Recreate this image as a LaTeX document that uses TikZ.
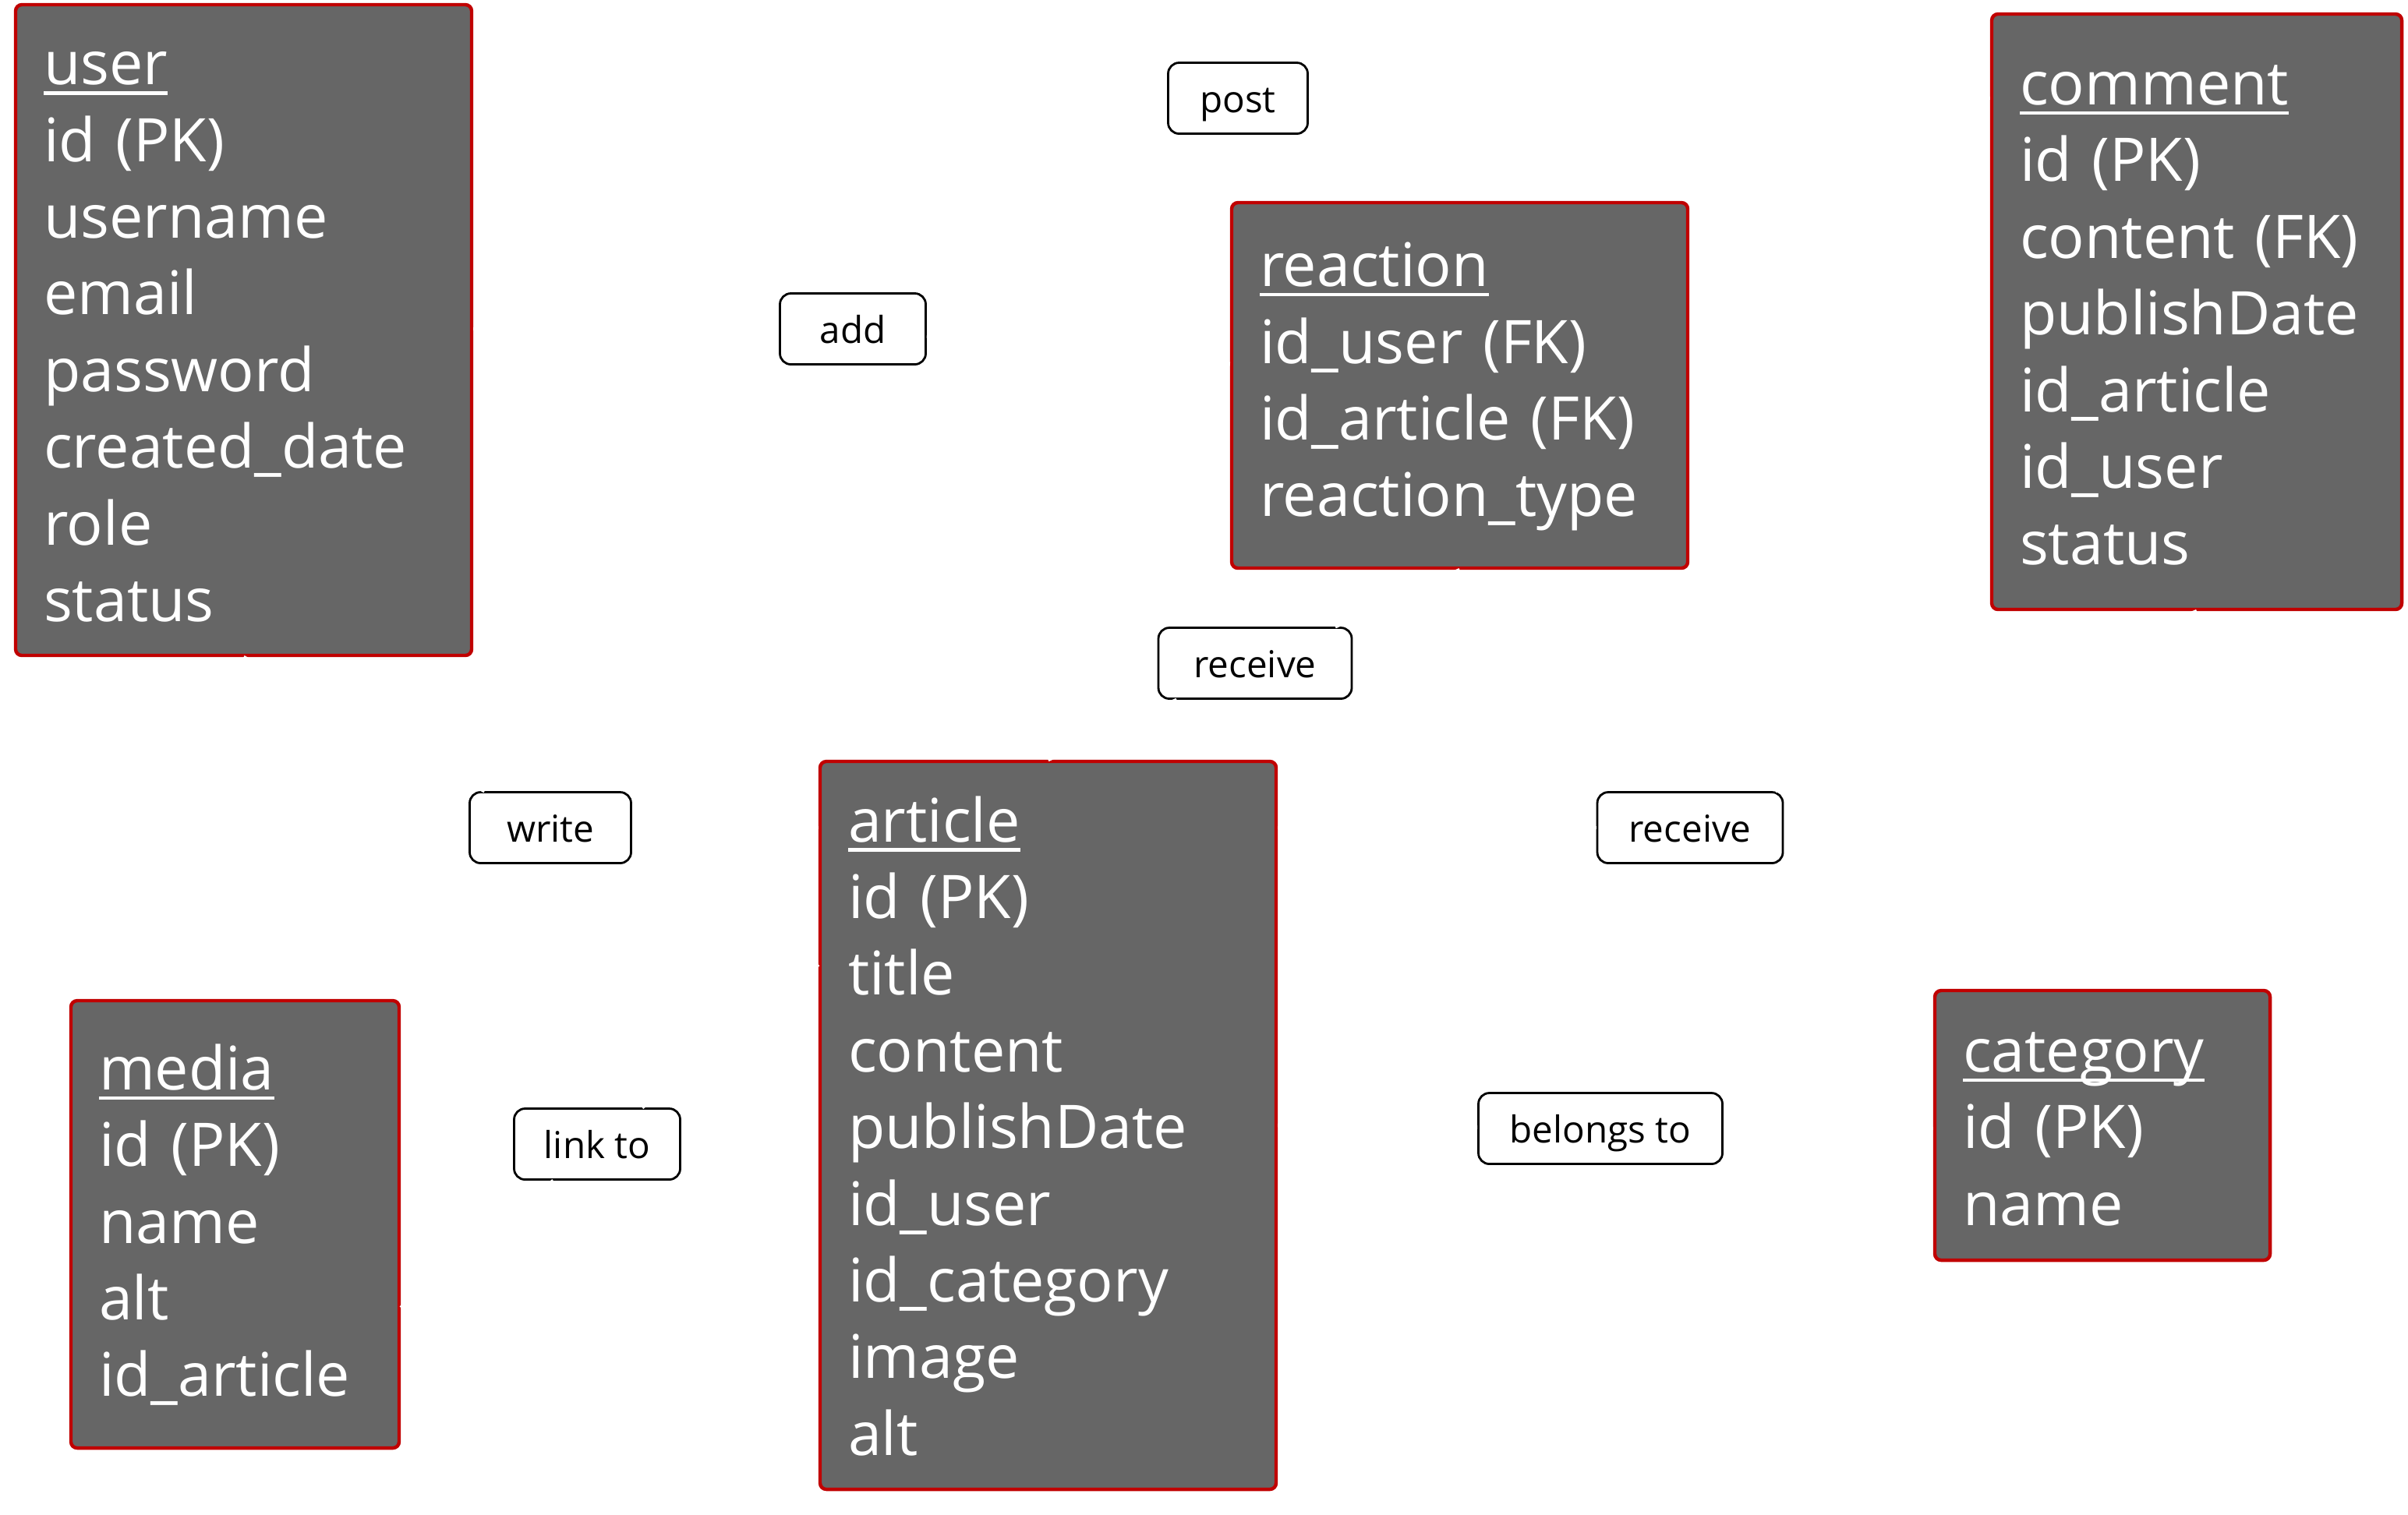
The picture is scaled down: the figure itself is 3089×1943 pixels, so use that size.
\documentclass[tikz,border=0pt]{standalone}
\usepackage{fontspec}
\setmainfont{Open Sans}
\usetikzlibrary{calc}
\definecolor{boxgray}{HTML}{666666}
\definecolor{boxred}{HTML}{C00000}
\newsavebox\hdbox
\newcommand\headline[1]{\rule{0pt}{15pt}\sbox\hdbox{#1}\rlap{\rule[-3.2pt]{\wd\hdbox}{1.1pt}}\usebox\hdbox}
\begin{document}
\begin{tikzpicture}[x=0.25pt,y=-0.25pt,
  entity/.style={draw=boxred, line width=1.1pt, fill=boxgray, rounded corners=2pt,
    text=white, align=left, inner xsep=9pt, inner ysep=0pt,
    font=\fontsize{19.3pt}{24.6pt}\selectfont},
  rel/.style={draw=black, line width=0.7pt, fill=white, rounded corners=3.5pt,
    minimum height=22.75pt, inner sep=0pt, text height=9pt, text depth=0pt,
    font=\fontsize{11.9pt}{14pt}\selectfont},
  link/.style={draw=white, line width=1.2pt}]
\useasboundingbox (0,0) rectangle (3089,1943);

\node[entity, minimum width=146.25pt, minimum height=208.75pt, text width=128.25pt] (user) at (312.5,423.5)
  {\headline{user}\\id (PK)\\username\\email\\password\\created\_date\\role\\status};
\node[entity, minimum width=131.5pt, minimum height=191pt, text width=113.5pt] (comment) at (2818,400)
  {\headline{comment}\\id (PK)\\content (FK)\\publishDate\\id\_article\\id\_user\\status};
\node[entity, minimum width=146.25pt, minimum height=117.25pt, text width=128.25pt] (reaction) at (1872.5,494.5)
  {\headline{reaction}\\id\_user (FK)\\id\_article (FK)\\reaction\_type};
\node[entity, minimum width=146.25pt, minimum height=233.5pt, text width=128.25pt] (article) at (1344.5,1444)
  {\headline{article}\\id (PK)\\title\\content\\publishDate\\id\_user\\id\_category\\image\\alt};
\node[entity, minimum width=105.25pt, minimum height=143.5pt, text width=87.25pt] (media) at (301.5,1571)
  {\headline{media}\\id (PK)\\name\\alt\\id\_article};
\node[entity, minimum width=107.5pt, minimum height=86.5pt, text width=89.5pt] (category) at (2697,1444)
  {\headline{category}\\id (PK)\\name};

\node[rel, minimum width=44.75pt] (post) at (1588,126) {post};
\node[rel, minimum width=46.75pt] (add) at (1094,422) {add};
\node[rel, minimum width=62pt] (receive1) at (1610,851) {receive};
\node[rel, minimum width=51.75pt] (write) at (706,1062) {write};
\node[rel, minimum width=59.5pt] (receive2) at (2168,1062) {receive};
\node[rel, minimum width=53.25pt] (linkto) at (766,1468) {link to};
\node[rel, minimum width=78.25pt] (belongs) at (2053,1448) {belongs to};

\draw[link] (user.east |- add) -- (add);
\draw[link] (add) -- (reaction);
\draw[link] (post) -- (comment.west |- post);
\draw[link] (reaction.south) -- (receive1);
\draw[link] (receive1) -- (article.north);
\draw[link] (user.south) -- (write);
\draw[link] (write) -- (article.west |- write);
\draw[link] ($(media.north east)!0.685!(media.south east)$) -- (linkto);
\draw[link] (linkto) -- ($(article.north west)!0.28!(article.south west)$);
\draw[link] (article.east |- receive2) -- (receive2);
\draw[link] (receive2) -- (comment.south);
\draw[link] (article.east) -- (belongs);
\draw[link] (belongs) -- (category.west |- belongs);
\end{tikzpicture}
\end{document}
